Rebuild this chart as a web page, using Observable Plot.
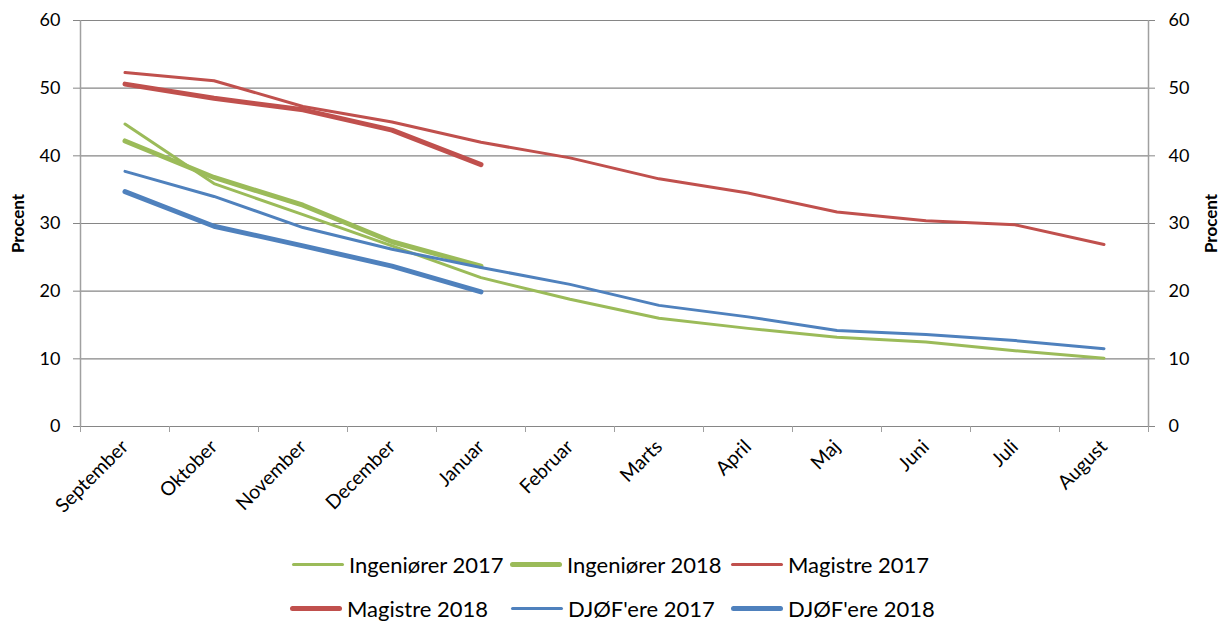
<!DOCTYPE html>
<html>
<head>
<meta charset="utf-8">
<script src="https://cdn.jsdelivr.net/npm/d3@7"></script>
<script src="https://cdn.jsdelivr.net/npm/@observablehq/plot@0.6"></script>
<style>
  body { margin: 0; background: #fff; font-family: Lato, "Open Sans", sans-serif; }
  #chart { width: 1223px; height: 540px; }
  #legend { position: relative; width: 1223px; height: 82px; font-size: 22px; color: #000; }
  .item { position: absolute; display: flex; align-items: center; height: 24px; white-space: nowrap; }
  .sw { display: inline-block; width: 52px; margin-right: 5px; border-radius: 3px; }
</style>
</head>
<body>
<div id="chart"></div>
<div id="legend"></div>
<script>
const months = ["September","Oktober","November","December","Januar","Februar","Marts","April","Maj","Juni","Juli","August"];
const yTicks = [0, 10, 20, 30, 40, 50, 60];

const seriesNames = ["Ingeniører 2017","Ingeniører 2018","Magistre 2017","Magistre 2018","DJØF'ere 2017","DJØF'ere 2018"];
const seriesColors = ["#9BBB59","#9BBB59","#C0504D","#C0504D","#4F81BD","#4F81BD"];
const seriesWidths = [3, 5, 3, 5, 3, 5];

const ingenioerer2017 = [44.7, 35.9, 31.3, 26.7, 22.0, 18.8, 16.0, 14.5, 13.2, 12.5, 11.2, 10.1];
const ingenioerer2018 = [42.2, 36.8, 32.7, 27.3, 23.7];
const magistre2017 = [52.3, 51.1, 47.3, 45.0, 42.0, 39.7, 36.6, 34.5, 31.7, 30.4, 29.8, 26.9];
const magistre2018 = [50.6, 48.5, 46.8, 43.8, 38.7];
const djoef2017 = [37.7, 34.0, 29.4, 26.2, 23.5, 21.0, 17.9, 16.2, 14.2, 13.6, 12.7, 11.5];
const djoef2018 = [34.7, 29.6, 26.7, 23.7, 19.9];

const seriesValues = [ingenioerer2017, ingenioerer2018, magistre2017, magistre2018, djoef2017, djoef2018];

const rows = seriesValues.map((vals, s) => vals.map((v, i) => ({series: seriesNames[s], month: months[i], i, value: v})));

const xDomain = [-0.5, months.length - 0.5];
const boundaries = d3.range(months.length + 1).map(k => k - 0.5);
const centers = d3.range(months.length);
const gridColor = "#868686";
const axisColor = "#A0A0A0";

const chart = Plot.plot({
  width: 1223,
  height: 540,
  marginLeft: 80,
  marginRight: 75,
  marginTop: 20,
  marginBottom: 114,
  style: {fontFamily: "Lato, 'Open Sans', sans-serif", fontSize: "18px", color: "#000", background: "#fff"},
  x: {type: "linear", domain: xDomain},
  y: {type: "linear", domain: [0, 60]},
  marks: [
    Plot.ruleY(yTicks, {stroke: gridColor, strokeWidth: 1.2}),
    Plot.ruleX(xDomain, {stroke: axisColor, strokeWidth: 1.5}),
    Plot.axisY({anchor: "left", ticks: yTicks, tickSize: 7, tickPadding: 13, stroke: gridColor, label: null}),
    Plot.axisY({anchor: "right", ticks: yTicks, tickSize: 6, tickPadding: 14, stroke: gridColor, label: null}),
    Plot.axisX({ticks: boundaries, tickSize: 6, tickFormat: () => "", stroke: axisColor, label: null}),
    Plot.axisX({ticks: centers, tickSize: 0, tickPadding: 17, tickRotate: -45, tickFormat: i => months[i], fontSize: 19.5, label: null}),
    Plot.text(["Procent"], {frameAnchor: "left", textAnchor: "middle", rotate: -90, dx: -62, fontWeight: "bold", fontSize: 17}),
    Plot.text(["Procent"], {frameAnchor: "right", textAnchor: "middle", rotate: -90, dx: 63, fontWeight: "bold", fontSize: 17}),
    ...rows.map((data, s) => Plot.lineY(data, {
      x: "i", y: "value", stroke: seriesColors[s], strokeWidth: seriesWidths[s],
      strokeLinecap: "round", strokeLinejoin: "round"
    }))
  ]
});
document.getElementById("chart").appendChild(chart);

// Legend
const legendPos = [[292, 12], [510, 12], [731, 12], [290, 56], [511, 56], [731, 56]];
const legend = document.getElementById("legend");
seriesNames.forEach((name, s) => {
  const item = document.createElement("div");
  item.className = "item";
  item.style.left = legendPos[s][0] + "px";
  item.style.top = legendPos[s][1] + "px";
  const sw = document.createElement("span");
  sw.className = "sw";
  sw.style.background = seriesColors[s];
  sw.style.height = seriesWidths[s] + "px";
  const t = document.createElement("span");
  t.textContent = name;
  item.appendChild(sw);
  item.appendChild(t);
  legend.appendChild(item);
});
</script>
</body>
</html>
